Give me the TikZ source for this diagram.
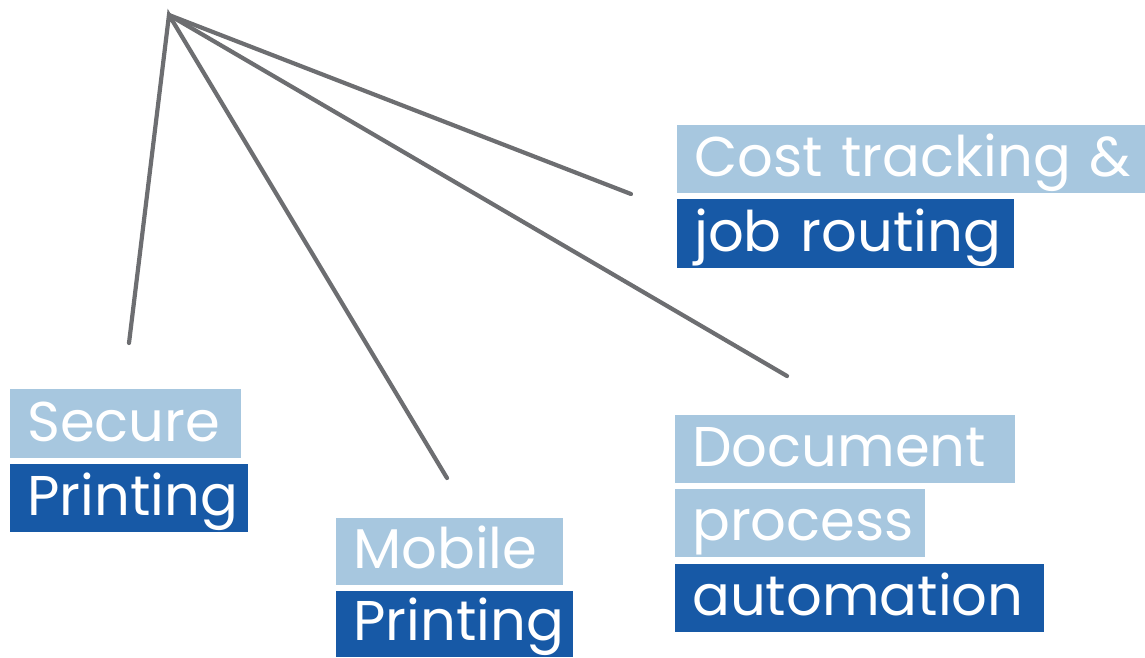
\documentclass[tikz,border=0pt]{standalone}
\usepackage{fontspec}
\setmainfont{Poppins}
\definecolor{lightb}{HTML}{A7C7DF}
\definecolor{darkb}{HTML}{1759A6}
\definecolor{linegray}{HTML}{6D6E71}
\tikzset{
  lbl/.style={anchor=north west, inner xsep=17pt, inner ysep=0pt, text depth=17pt, text=white, align=left, font=\fontsize{56}{56}\selectfont},
  lightbox/.style={lbl, fill=lightb},
  darkbox/.style={lbl, fill=darkb},
  spoke/.style={draw=linegray, line width=4.2pt, line cap=round}
}
\begin{document}
\begin{tikzpicture}[x=1pt, y=-1pt]
\useasboundingbox (0,0) rectangle (1145,657);
% boxes
\node[lightbox, text width=197pt, text height=52pt] (sec1) at (10,389) {\mbox{Secure}};
\node[darkbox, text width=204pt, text height=51pt] (sec2) at (10,464) {\mbox{Printing}};
\node[lightbox, text width=193pt, text height=50pt] (mob1) at (336,518) {\mbox{Mobile}};
\node[darkbox, text width=203pt, text height=49pt] (mob2) at (336,591) {\mbox{Printing}};
\node[lightbox, text width=434pt, text height=51pt] (cost1) at (677,125) {\mbox{Cost tracking \&}};
\node[darkbox, text width=303pt, text height=52pt] (cost2) at (677,199) {\mbox{job routing}};
\node[lightbox, text width=306pt, text height=51pt] (doc1) at (675,415) {\mbox{Document}};
\node[lightbox, text width=216pt, text height=51pt] (doc2) at (675,489) {\mbox{process}};
\node[darkbox, text width=335pt, text height=51pt] (doc3) at (675,564) {\mbox{automation}};
% spokes
\coordinate (apex) at (169,15);
\coordinate (e1) at (129,343);
\coordinate (e2) at (447,478);
\coordinate (e3) at (631,194);
\coordinate (e4) at (787,376);
\draw[spoke] (e1) -- (apex) -- (e2);
\draw[spoke] (apex) -- (e3);
\draw[spoke] (apex) -- (e4);
\end{tikzpicture}
\end{document}
